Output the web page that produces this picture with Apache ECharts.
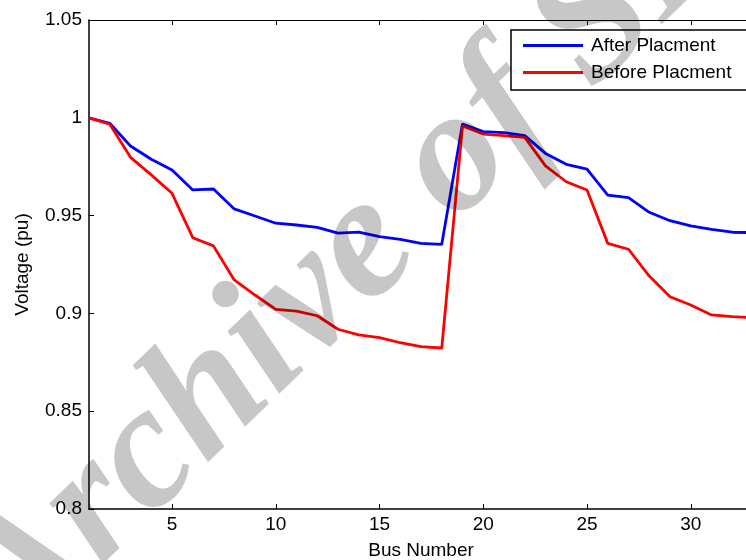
<!DOCTYPE html>
<html>
<head>
<meta charset="utf-8">
<script src="https://cdn.jsdelivr.net/npm/echarts@6/dist/echarts.min.js"></script>
<style>html,body{margin:0;padding:0;background:#fff;}#c{width:746px;height:560px;}</style>
</head>
<body>
<div id="c"></div>
<script>
const busNumbers = [1,2,3,4,5,6,7,8,9,10,11,12,13,14,15,16,17,18,19,20,21,22,23,24,25,26,27,28,29,30,31,32,33];
const afterPlacement = [1.0, 0.9972, 0.9856, 0.9788, 0.9733, 0.9631, 0.9636, 0.9534, 0.9498, 0.9461, 0.9452, 0.9440, 0.9410, 0.9415, 0.9392, 0.9379, 0.9358, 0.9353, 0.9968, 0.9929, 0.9924, 0.9909, 0.9818, 0.9762, 0.9738, 0.9605, 0.9592, 0.9517, 0.9474, 0.9447, 0.9430, 0.9415, 0.9413];
const beforePlacement = [1.0, 0.9967, 0.9798, 0.9708, 0.9614, 0.9387, 0.9345, 0.9171, 0.9094, 0.9021, 0.9012, 0.8988, 0.8919, 0.8890, 0.8876, 0.8850, 0.8830, 0.8823, 0.9958, 0.9917, 0.9909, 0.9900, 0.9754, 0.9673, 0.9631, 0.9358, 0.9328, 0.9191, 0.9085, 0.9043, 0.8992, 0.8983, 0.8978];
const xTicks = [5,10,15,20,25,30];
const seriesNames = ['After Placment', 'Before Placment'];
const watermarkText = 'Archive of SID';

const chart = echarts.init(document.getElementById('c'), null, {renderer: 'canvas'});
const font = 'Liberation Sans';
const pair = arr => busNumbers.map((x, i) => [x, arr[i]]);
chart.setOption({
  animation: false,
  backgroundColor: '#fff',
  grid: {left: 89, top: 20, width: 664, height: 489, show: false, outerBoundsMode: 'none', containLabel: false},
  legend: {
    orient: 'vertical', left: 511, top: 30,
    data: seriesNames,
    itemWidth: 60, itemHeight: 14, itemGap: 8,
    padding: [6, 30, 8, 12],
    borderColor: '#000', borderWidth: 1.5, backgroundColor: '#fff',
    textStyle: {fontFamily: font, fontSize: 19, color: '#000', padding: [0,0,0,3]},
    icon: 'path://M0,0 L60,0 L60,3 L0,3 Z'
  },
  xAxis: [{
    type: 'value', min: 1, max: 33, position: 'bottom',
    name: 'Bus Number', nameLocation: 'middle', nameGap: 32,
    nameTextStyle: {fontFamily: font, fontSize: 19, color: '#000'},
    axisLine: {show: true, lineStyle: {color: '#000', width: 1.5}},
    axisTick: {show: true, inside: true, length: 5, lineStyle: {color: '#000', width: 1}, customValues: xTicks},
    axisLabel: {fontFamily: font, fontSize: 19, color: '#000', margin: 6, customValues: xTicks},
    splitLine: {show: false}
  }, {
    type: 'value', min: 1, max: 33, position: 'top',
    axisLine: {show: true, onZero: false, lineStyle: {color: '#000', width: 1}},
    axisTick: {show: true, inside: true, length: 5, lineStyle: {color: '#000', width: 1}, customValues: xTicks},
    axisLabel: {show: false},
    splitLine: {show: false}
  }],
  yAxis: [{
    type: 'value', min: 0.8, max: 1.05, interval: 0.05,
    name: 'Voltage (pu)', nameLocation: 'middle', nameGap: 57,
    nameTextStyle: {fontFamily: font, fontSize: 19, color: '#000'},
    axisLine: {show: true, lineStyle: {color: '#000', width: 1.5}},
    axisTick: {show: true, inside: true, length: 5, lineStyle: {color: '#000', width: 1}},
    axisLabel: {fontFamily: font, fontSize: 19, color: '#000', margin: 7,
      formatter: v => String(Math.round(v * 100) / 100)},
    splitLine: {show: false}
  }],
  series: [{
    name: seriesNames[0], type: 'line', data: pair(afterPlacement),
    symbol: 'none', lineStyle: {color: '#0000ff', width: 2.8}, itemStyle: {color: '#0000ff'}
  }, {
    name: seriesNames[1], type: 'line', data: pair(beforePlacement),
    symbol: 'none', lineStyle: {color: '#ff0000', width: 2.8}, itemStyle: {color: '#ff0000'}
  }],
  graphic: [{
    type: 'text', x: 378, y: 235, rotation: 44 * Math.PI / 180, z: 100, silent: true,
    style: {
      text: watermarkText,
      font: 'italic bold 176px "Liberation Serif"',
      fill: 'rgba(0,0,0,0.22)', align: 'center', verticalAlign: 'middle'
    }
  }]
});
</script>
</body>
</html>
